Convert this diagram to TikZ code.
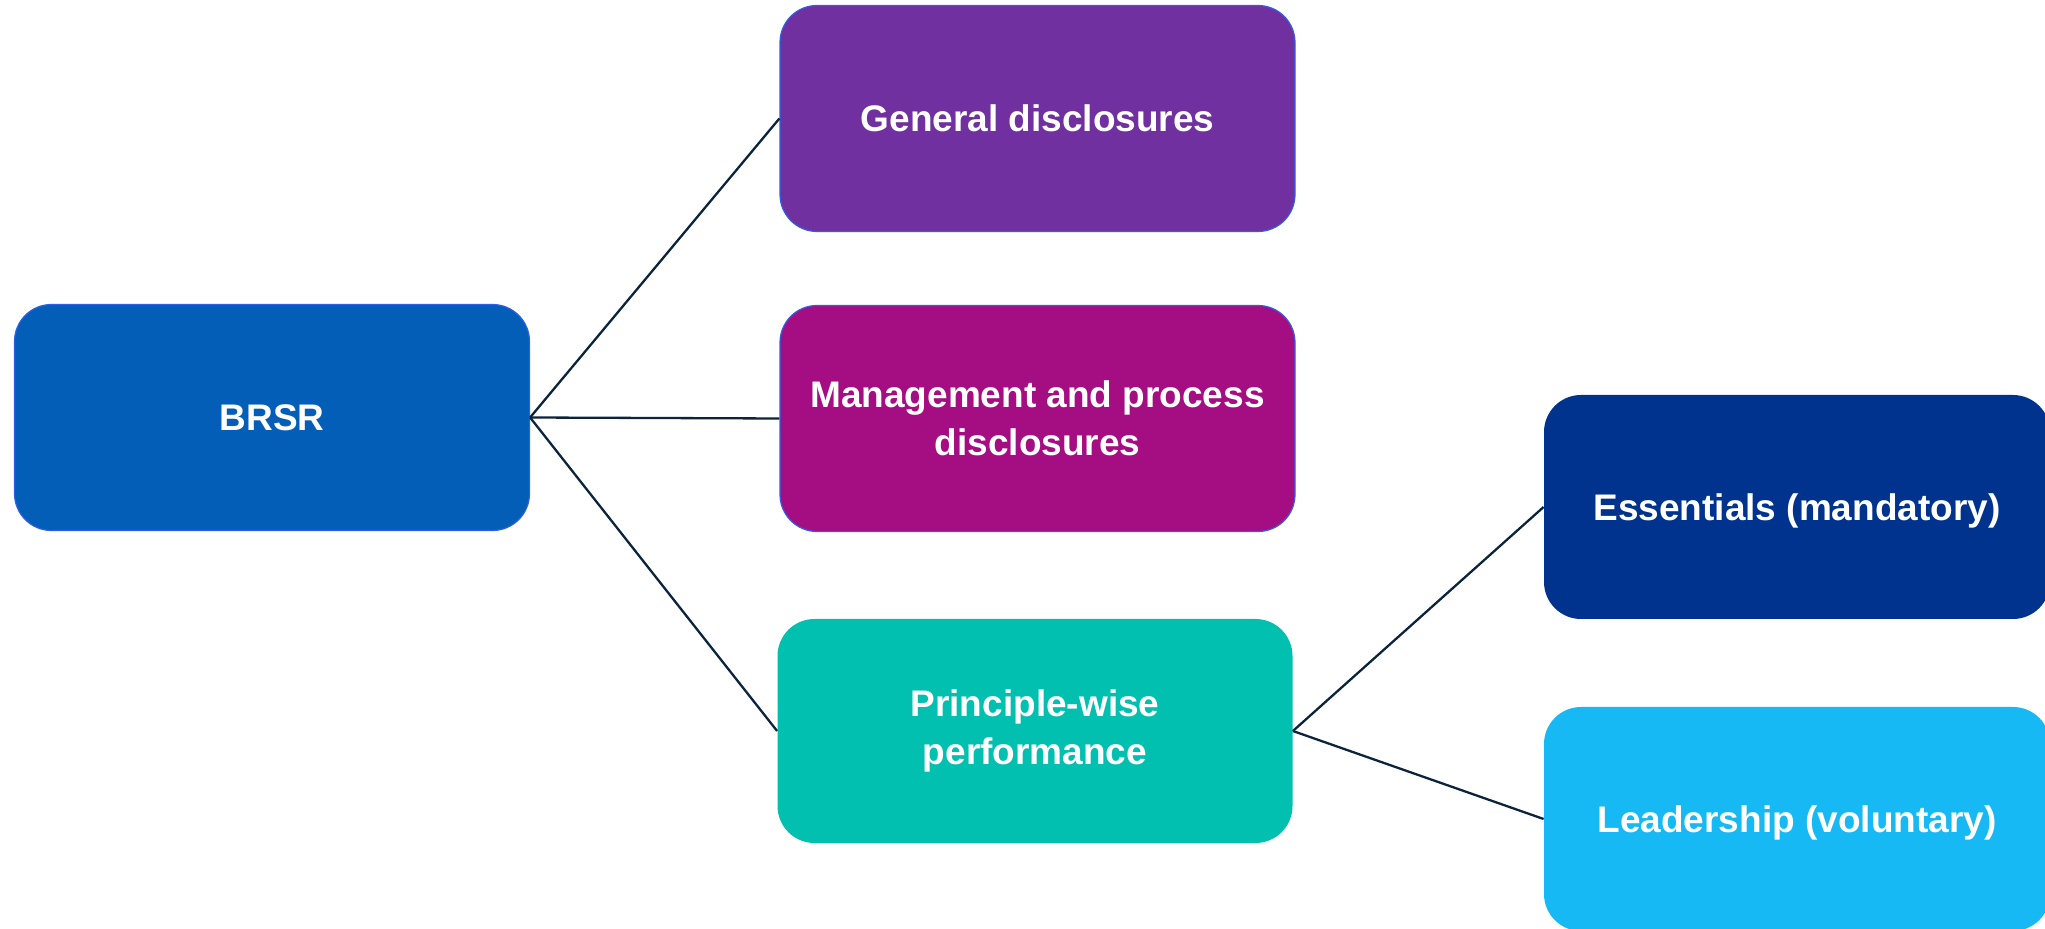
\documentclass[tikz,border=0pt]{standalone}
\usepackage{fontspec}
\setmainfont{Liberation Sans}
\definecolor{brsrblue}{HTML}{035EB8}
\definecolor{genpurple}{HTML}{7030A0}
\definecolor{mgmtmagenta}{HTML}{A50E82}
\definecolor{printeal}{HTML}{02C0AF}
\definecolor{essnavy}{HTML}{00338D}
\definecolor{leadsky}{HTML}{17B9F5}
\definecolor{edgeblue}{HTML}{2F5FE6}
\definecolor{linknavy}{HTML}{0C233C}
\begin{document}
\begin{tikzpicture}[x=0.5pt,y=-0.5pt,
  box/.style={rectangle, rounded corners=18.5pt, minimum width=257.5pt,
    minimum height=113pt, inner sep=0pt, align=center, text=white,
    font=\fontsize{18.5}{24}\selectfont\bfseries},
  outlined/.style={draw=edgeblue, line width=0.6pt},
  oneline/.style={text height=13.3pt, text depth=0pt},
  link/.style={draw=linknavy, line width=1.15pt}]
  \useasboundingbox (0,0) rectangle (2045,929);
  \clip (0,0) rectangle (2045,929);

  % tree nodes
  \node[box, outlined, oneline, fill=brsrblue] (brsr) at (272,417.5) {BRSR};
  \node[box, outlined, oneline, fill=genpurple] (gen) at (1037.5,118.5) {General disclosures};
  \node[box, outlined, fill=mgmtmagenta] (mgmt) at (1037.5,418.5)
    {Management and process\\disclosures};
  \node[box, fill=printeal, minimum height=112pt] (prin) at (1035,731)
    {Principle-wise\\performance};
  \node[box, oneline, fill=essnavy, minimum width=253pt, minimum height=112pt] (ess) at (1797,507)
    {Essentials (mandatory)};
  \node[box, oneline, fill=leadsky, minimum width=253pt, minimum height=112pt] (lead) at (1797,819)
    {Leadership (voluntary)};

  % connectors
  \draw[link] (brsr.east) -- (gen.west);
  \draw[link] (brsr.east) -- (mgmt.west);
  \draw[link] (brsr.east) -- (prin.west);
  \draw[link] (prin.east) -- (ess.west);
  \draw[link] (prin.east) -- (lead.west);
\end{tikzpicture}
\end{document}
